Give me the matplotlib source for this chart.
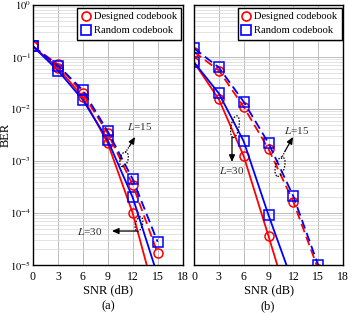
import matplotlib
matplotlib.use("Agg")
import matplotlib.pyplot as plt
from matplotlib.lines import Line2D
from matplotlib.patches import Ellipse
from matplotlib.transforms import ScaledTranslation
from matplotlib.ticker import LogLocator, NullFormatter, FuncFormatter

plt.rcParams['font.family'] = ['Liberation Serif', 'DejaVu Serif']
plt.rcParams['mathtext.fontset'] = 'stix'
plt.rcParams['font.size'] = 8

snr = [0, 3, 6, 9, 12, 15]
xticks = [0, 3, 6, 9, 12, 15, 18]

# panel (a)
des15_a = [0.16, 0.072, 0.020, 0.0034, 3.5e-4, 1.7e-5]
rnd15_a = [0.16, 0.068, 0.023, 0.0037, 4.5e-4, 2.8e-5]
des30_a = [0.16, 0.062, 0.017, 0.0022, 1.0e-4, 1.7e-6]
rnd30_a = [0.16, 0.055, 0.015, 0.0025, 2.0e-4, 6.3e-6]

# panel (b)
des15_b = [0.126, 0.055, 0.011, 0.0017, 1.65e-4, 8.3e-6]
rnd15_b = [0.147, 0.063, 0.0138, 0.0022, 2.1e-4, 1.0e-5]
des30_b = [0.079, 0.0154, 1.25e-3, 3.6e-5, 9.5e-7, 2.5e-8]
rnd30_b = [0.079, 0.020, 2.4e-3, 9.1e-5, 4.3e-6, 2.0e-7]

RED = '#ff0000'
BLUE = '#0000ff'

fig = plt.figure(figsize=(3.5, 3.13), dpi=100)
axa = fig.add_axes([33/350, 1-265/313, 149.5/350, 260/313])
axb = fig.add_axes([194/350, 1-265/313, 149/350, 260/313])


def yfmt(v, pos):
    import math
    e = int(round(math.log10(v)))
    return r'$10^{%d}$' % e


def draw(ax, d15, r15, d30, r30):
    kw = dict(lw=1.3, markersize=6.5, markerfacecolor='none', markeredgewidth=1.1, clip_on=True)
    ax.plot(snr, d30, '-', color=RED, marker='o', markeredgecolor=RED, **kw)
    ax.plot(snr, r30, '-', color=BLUE, marker='s', markeredgecolor=BLUE, **kw)
    ax.plot(snr, d15, '--', color=RED, marker='o', markeredgecolor=RED, dashes=(5, 2.6), **kw)
    ax.plot(snr, r15, '--', color=BLUE, marker='s', markeredgecolor=BLUE, dashes=(5, 2.6), **kw)
    ax.set_yscale('log')
    ax.set_xlim(0, 18)
    ax.set_ylim(1e-5, 1)
    ax.set_xticks(xticks)
    ax.yaxis.set_major_locator(LogLocator(base=10, numticks=10))
    ax.yaxis.set_minor_locator(LogLocator(base=10, subs=range(2, 10), numticks=10))
    ax.yaxis.set_minor_formatter(NullFormatter())
    ax.yaxis.set_major_formatter(FuncFormatter(yfmt))
    ax.grid(True, which='major', color='#bdbdbd', lw=0.7)
    ax.grid(True, which='minor', color='#d8d8d8', lw=0.5)
    ax.tick_params(which='both', direction='in', length=0)
    ax.tick_params(axis='x', labelsize=8.5, pad=4)
    ax.tick_params(axis='y', labelsize=7.5, pad=1.5)
    for s in ax.spines.values():
        s.set_linewidth(1.0)
    ax.set_xlabel('SNR (dB)', fontsize=9, labelpad=1)
    handles = [Line2D([], [], ls='none', marker='o', markersize=6.5, markerfacecolor='none',
                      markeredgecolor=RED, markeredgewidth=1.2),
               Line2D([], [], ls='none', marker='s', markersize=6.5, markerfacecolor='none',
                      markeredgecolor=BLUE, markeredgewidth=1.2)]
    leg = ax.legend(handles, ['Designed codebook', 'Random codebook'], loc='upper right',
                    bbox_to_anchor=(0.99, 0.99), borderaxespad=0.0, fancybox=False,
                    framealpha=1, edgecolor='black', fontsize=7.6, handlelength=0.8,
                    handletextpad=0.35, borderpad=0.4, labelspacing=0.45)
    leg.get_frame().set_linewidth(1.0)


def ellipse(ax, x, y, w, h, ang):
    tr = fig.dpi_scale_trans + ScaledTranslation(x, y, ax.transData)
    e = Ellipse((0, 0), w / 100, h / 100, angle=ang, transform=tr, fill=False,
                ls=(0, (1.2, 1.2)), lw=0.9, ec='black', zorder=5)
    ax.add_patch(e)


def arrow(ax, x0, y0, x1, y1):
    ax.annotate('', xy=(x1, y1), xytext=(x0, y0),
                arrowprops=dict(arrowstyle='-|>,head_length=0.5,head_width=0.22', color='black',
                                lw=0.9, shrinkA=0, shrinkB=0), zorder=6)


draw(axa, des15_a, rnd15_a, des30_a, rnd30_a)
draw(axb, des15_b, rnd15_b, des30_b, rnd30_b)
axa.set_ylabel('BER', fontsize=9)
axa.yaxis.set_label_coords(-21/149.5, 0.5)
axb.set_yticklabels([])

# annotations (a)
ellipse(axa, 10.96, 1.08e-3, 8, 15, -15)
axa.plot([11.1, 11.6], [1.45e-3, 1.9e-3], color='black', ls=(0, (1, 1)), lw=0.9, zorder=6)
arrow(axa, 11.6, 1.9e-3, 12.28, 2.9e-3)
axa.text(12.8, 4.6e-3, r'$\it{L}$=15', ha='center', va='center', fontsize=8, color='#333333')
ellipse(axa, 12.76, 6.1e-5, 7, 15, -15)
arrow(axa, 12.5, 4.5e-5, 9.5, 4.5e-5)
axa.text(8.35, 4.5e-5, r'$\it{L}$=30', ha='right', va='center', fontsize=8, color='#333333')

# annotations (b)
ellipse(axb, 4.95, 4.57e-3, 8, 22, -10)
arrow(axb, 4.59, 2.9e-3, 4.59, 9.6e-4)
axb.text(4.59, 8.2e-4, r'$\it{L}$=30', ha='center', va='top', fontsize=8, color='#333333')
ellipse(axb, 10.39, 7.8e-4, 9, 20, -15)
axb.plot([10.55, 11.0], [1.1e-3, 1.55e-3], color='black', ls=(0, (1, 1)), lw=0.9, zorder=6)
arrow(axb, 11.0, 1.55e-3, 11.96, 2.9e-3)
axb.text(12.44, 3.9e-3, r'$\it{L}$=15', ha='center', va='center', fontsize=8, color='#333333')

fig.text(108/350, 1-306/313, '(a)', ha='center', va='center', fontsize=9)
fig.text(268/350, 1-306/313, '(b)', ha='center', va='center', fontsize=9)

fig.savefig('out.png', dpi=100)
